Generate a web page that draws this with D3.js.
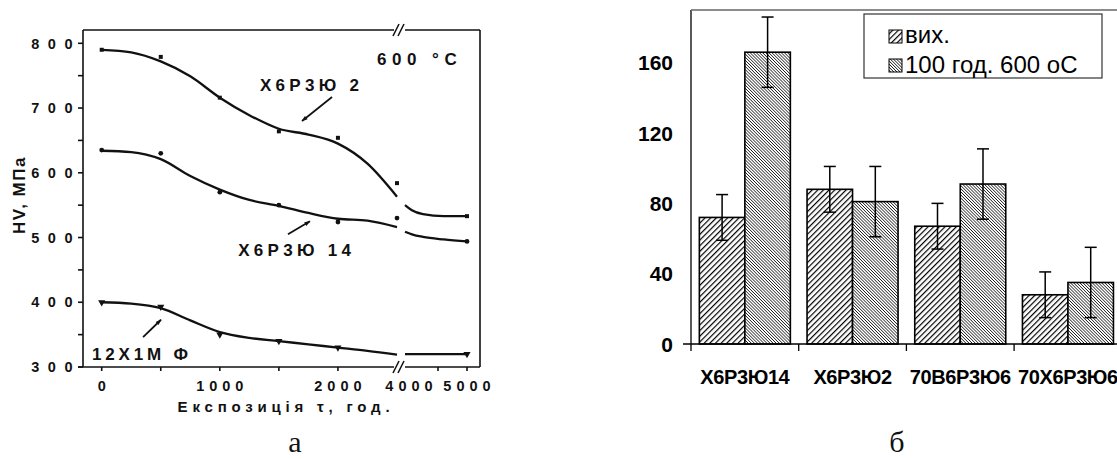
<!DOCTYPE html>
<html><head><meta charset="utf-8">
<script src="https://cdn.jsdelivr.net/npm/d3@7"></script>
<style>body{margin:0;background:#fff}svg{display:block}</style>
</head><body><svg id="c" width="1117" height="459"></svg>
<script>
// ---------- panel а data ----------
const hvYTicks = [300,400,500,600,700,800];
const hvYMinor = [350,450,550,650,750];
const hvXTicks = [0,500,1000,1500,2000,4500,5000];
const hvXLabels = [0,1000,2000,4000,5000];
const curveX1 = [0,250,500,750,1000,1250,1500,1750,2000,2250,2500];
const curveX2 = [3931,4050,4241,4600,5000];
const u2Curve1 = [790,786,772,749,716,689,668,659,645,614,563];
const u2Curve2 = [550,542,536,533,533];
const u14Curve1 = [634,632,621,595,574,558,549,538,529,526,516];
const u14Curve2 = [509,505,501,497,494];
const mfCurve1 = [400,398,391,372,354,345,340,335,330,325,319];
const mfCurve2 = [320,320,320,320,320];
const markerX = [0,500,1000,1500,2000,2500,5000];
const u2Pts = [790,779,716,664,654,584,533];
const u14Pts = [635,630,570,550,524,530,494];
const mfPts = [400,393,350,340,330,null,320];

// ---------- panel б data ----------
const categories = ["Х6Р3Ю14","Х6Р3Ю2","70В6Р3Ю6","70Х6Р3Ю6"];
const seriesNames = ["вих.","100 год. 600 оС"];
const initVals = [72,88,67,28];
const initErr = [13,13,13,13];
const agedVals = [166,81,91,35];
const agedErr = [20,20,20,20];
const barYTicks = [0,40,80,120,160];

const svg = d3.select("#c");
const F = "'Liberation Sans', Arial, sans-serif";

// ================= Panel а =================
const L = {left:83, right:480, top:30, bottom:367};
const x = d3.scaleLinear().domain([0,2500,3931,5000]).range([101.7,397,405,467]);
const y = d3.scaleLinear().domain([300,800]).range([L.bottom,43.3]);
const gA = svg.append("g");
const breakX = 400;

// frame
const frame = gA.append("g").attr("stroke","#111").attr("stroke-width",1.6).attr("fill","none");
frame.append("line").attr("x1",L.left).attr("x2",L.left).attr("y1",L.top).attr("y2",L.bottom);
frame.append("line").attr("x1",L.right).attr("x2",L.right).attr("y1",L.top).attr("y2",L.bottom);
frame.append("line").attr("x1",L.left-5).attr("x2",breakX-6).attr("y1",L.bottom).attr("y2",L.bottom);
frame.append("line").attr("x1",breakX+5).attr("x2",L.right).attr("y1",L.bottom).attr("y2",L.bottom);
frame.append("line").attr("x1",L.left).attr("x2",breakX-6).attr("y1",L.top).attr("y2",L.top);
frame.append("line").attr("x1",breakX+5).attr("x2",L.right).attr("y1",L.top).attr("y2",L.top);
[L.top,L.bottom].forEach(yy=>{
  [-4,1].forEach(o=>{
    frame.append("line").attr("x1",breakX+o-3).attr("y1",yy+6).attr("x2",breakX+o+3).attr("y2",yy-6);
  });
});
hvYTicks.concat(hvYMinor).forEach(v=>{
  frame.append("line").attr("x1",L.left-5).attr("x2",L.left).attr("y1",y(v)).attr("y2",y(v));
});
hvXTicks.forEach(v=>{
  frame.append("line").attr("x1",x(v)).attr("x2",x(v)).attr("y1",L.bottom).attr("y2",L.bottom+4);
});
// tick labels
gA.selectAll("text.yl").data(hvYTicks).join("text")
  .attr("x",L.left-2).attr("y",d=>y(d)).attr("dy","0.36em")
  .attr("text-anchor","end").attr("font-family",F).attr("font-weight","bold")
  .attr("font-size",14.5).attr("letter-spacing",8.5).attr("fill","#111").text(d=>d);
gA.selectAll("text.xl").data(hvXLabels).join("text")
  .attr("x",d=>x(d)+2.5).attr("y",390.5)
  .attr("text-anchor","middle").attr("font-family",F).attr("font-weight","bold")
  .attr("font-size",14.5).attr("letter-spacing",5).attr("fill","#111").text(d=>d);
gA.append("text").attr("x",286).attr("y",412).attr("text-anchor","middle")
  .attr("font-family",F).attr("font-weight","bold").attr("font-size",15)
  .attr("letter-spacing",4.8).attr("fill","#111").text("Експозиція τ, год.");
gA.append("text").attr("transform","translate(25,195) rotate(-90)").attr("text-anchor","middle")
  .attr("font-family",F).attr("font-weight","bold").attr("font-size",17)
  .attr("letter-spacing",1.5).attr("fill","#111").text("HV, МПа");

// curves
const line = d3.line().x(d=>x(d[0])).y(d=>y(d[1])).curve(d3.curveMonotoneX);
const curveSets = [[u2Curve1,u2Curve2],[u14Curve1,u14Curve2],[mfCurve1,mfCurve2]];
curveSets.forEach(([c1,c2])=>{
  gA.append("path").attr("d",line(curveX1.map((v,i)=>[v,c1[i]]))).attr("fill","none").attr("stroke","#111").attr("stroke-width",2.3);
  gA.append("path").attr("d",line(curveX2.map((v,i)=>[v,c2[i]]))).attr("fill","none").attr("stroke","#111").attr("stroke-width",2.3);
});
// markers
const sq = d3.symbol().type(d3.symbolSquare).size(16);
const ci = d3.symbol().type(d3.symbolCircle).size(18);
const tri = d3.symbol().type(d3.symbolTriangle).size(22);
[[u2Pts,sq,0],[u14Pts,ci,0],[mfPts,tri,180]].forEach(([pts,sym,rot])=>{
  gA.selectAll(null).data(markerX.map((v,i)=>[v,pts[i]]).filter(d=>d[1]!=null)).join("path")
    .attr("d",sym()).attr("fill","#111")
    .attr("transform",d=>`translate(${x(d[0])},${y(d[1])}) rotate(${rot})`);
});
// annotations (data coords)
const annText = [
  {t:"600 °C", x:2331, y:766, fs:17, ls:5.5},
  {t:"Х6Р3Ю 2", x:1340, y:726, fs:17, ls:4.3},
  {t:"Х6Р3Ю 14", x:1155, y:471, fs:17, ls:4.3},
  {t:"12Х1М Ф", x:-82, y:311, fs:17, ls:3.8}
];
gA.selectAll("text.ann").data(annText).join("text")
  .attr("x",d=>x(d.x)).attr("y",d=>y(d.y)).attr("font-family",F).attr("font-weight","bold")
  .attr("font-size",d=>d.fs).attr("letter-spacing",d=>d.ls).attr("fill","#111").text(d=>d.t);
const arrows = [
  {x1:1950,y1:717,x2:1696,y2:680},
  {x1:1577,y1:505,x2:1763,y2:525},
  {x1:350,y1:346,x2:502,y2:373}
];
svg.append("defs").append("marker").attr("id","ah").attr("viewBox","0 0 10 10")
  .attr("refX",9).attr("refY",5).attr("markerWidth",9).attr("markerHeight",6)
  .attr("markerUnits","userSpaceOnUse").attr("orient","auto")
  .append("path").attr("d","M0,1.5L10,5L0,8.5Z").attr("fill","#111");
gA.selectAll("line.arr").data(arrows).join("line")
  .attr("x1",d=>x(d.x1)).attr("y1",d=>y(d.y1)).attr("x2",d=>x(d.x2)).attr("y2",d=>y(d.y2))
  .attr("stroke","#111").attr("stroke-width",1.8).attr("marker-end","url(#ah)");

svg.append("text").attr("x",295).attr("y",452).attr("text-anchor","middle")
  .attr("font-family","'Liberation Serif','Times New Roman',serif").attr("font-size",30).attr("fill","#111").text("а");

// ================= Panel б =================
const R = {left:691, top:10, bottom:344};
const defs = svg.select("defs");
const p1 = defs.append("pattern").attr("id","hatch1").attr("patternUnits","userSpaceOnUse")
  .attr("width",4).attr("height",4).attr("patternTransform","rotate(45)");
p1.append("rect").attr("width",4).attr("height",4).attr("fill","#fff");
p1.append("line").attr("x1",0).attr("y1",0).attr("x2",0).attr("y2",4).attr("stroke","#000").attr("stroke-width",2.4);
const p2 = defs.append("pattern").attr("id","hatch2").attr("patternUnits","userSpaceOnUse")
  .attr("width",2.2).attr("height",4).attr("patternTransform","rotate(-45)");
p2.append("rect").attr("width",2.2).attr("height",4).attr("fill","#fff");
p2.append("line").attr("x1",0).attr("y1",0).attr("x2",0).attr("y2",4).attr("stroke","#000").attr("stroke-width",1.3);

const xb = d3.scaleBand().domain(categories).range([R.left, R.left+4*107.7]).paddingInner(0.155).paddingOuter(0.0775);
const xs = d3.scaleBand().domain([0,1]).range([0,xb.bandwidth()]);
const yb = d3.scaleLinear().domain([0,190]).range([R.bottom,R.top]);
const gB = svg.append("g");
const fills = ["url(#hatch1)","url(#hatch2)"];
const series = [[initVals,initErr],[agedVals,agedErr]];
series.forEach(([vals,errs],si)=>{
  gB.selectAll(null).data(categories).join("rect")
    .attr("x",d=>xb(d)+xs(si)).attr("width",xs.bandwidth())
    .attr("y",(d,i)=>yb(vals[i])).attr("height",(d,i)=>yb(0)-yb(vals[i]))
    .attr("fill",fills[si]).attr("stroke","#000").attr("stroke-width",1.6);
});
series.forEach(([vals,errs],si)=>{
  categories.forEach((c,i)=>{
    const cx = xb(c)+xs(si)+xs.bandwidth()/2;
    const g = gB.append("g").attr("stroke","#000").attr("stroke-width",1.5);
    g.append("line").attr("x1",cx).attr("x2",cx).attr("y1",yb(vals[i]+errs[i])).attr("y2",yb(vals[i]-errs[i]));
    [vals[i]+errs[i],vals[i]-errs[i]].forEach(v=>
      g.append("line").attr("x1",cx-6).attr("x2",cx+6).attr("y1",yb(v)).attr("y2",yb(v)));
  });
});
// axes
const ax = gB.append("g").attr("stroke","#000").attr("stroke-width",1.3);
ax.append("line").attr("x1",R.left).attr("x2",R.left).attr("y1",R.top).attr("y2",R.bottom);
ax.append("line").attr("x1",R.left-8).attr("x2",1117).attr("y1",R.bottom).attr("y2",R.bottom);
ax.append("line").attr("x1",R.left).attr("x2",1117).attr("y1",R.top).attr("y2",R.top).attr("stroke","#666");
categories.forEach(c=>{
  const bx = xb(c)-xb.step()*xb.paddingOuter();
  ax.append("line").attr("x1",bx).attr("x2",bx).attr("y1",R.bottom).attr("y2",R.bottom+7);
});
gB.selectAll("text.by").data(barYTicks).join("text")
  .attr("x",673).attr("y",d=>yb(d)).attr("dy","0.36em").attr("text-anchor","end")
  .attr("font-family",F).attr("font-weight","bold").attr("font-size",21).attr("fill","#000").text(d=>d);
gB.selectAll("text.bx").data(categories).join("text")
  .attr("x",d=>xb(d)+xb.bandwidth()/2).attr("y",384).attr("text-anchor","middle")
  .attr("font-family",F).attr("font-weight","bold").attr("font-size",20).attr("letter-spacing",-0.4)
  .attr("fill","#000").text(d=>d);
// legend
const lg = gB.append("g");
lg.append("rect").attr("x",864).attr("y",14).attr("width",238).attr("height",64)
  .attr("fill","#fff").attr("stroke","#333").attr("stroke-width",1.2);
seriesNames.forEach((n,i)=>{
  lg.append("rect").attr("x",889).attr("y",30+i*29).attr("width",13).attr("height",13)
    .attr("fill",fills[i]).attr("stroke","#000").attr("stroke-width",1);
  lg.append("text").attr("x",905).attr("y",43+i*29.5).attr("font-family",F).attr("font-size",24)
    .attr("fill","#000").text(n);
});
svg.append("text").attr("x",897).attr("y",452).attr("text-anchor","middle")
  .attr("font-family","'Liberation Serif','Times New Roman',serif").attr("font-size",30).attr("fill","#111").text("б");
</script></body></html>
